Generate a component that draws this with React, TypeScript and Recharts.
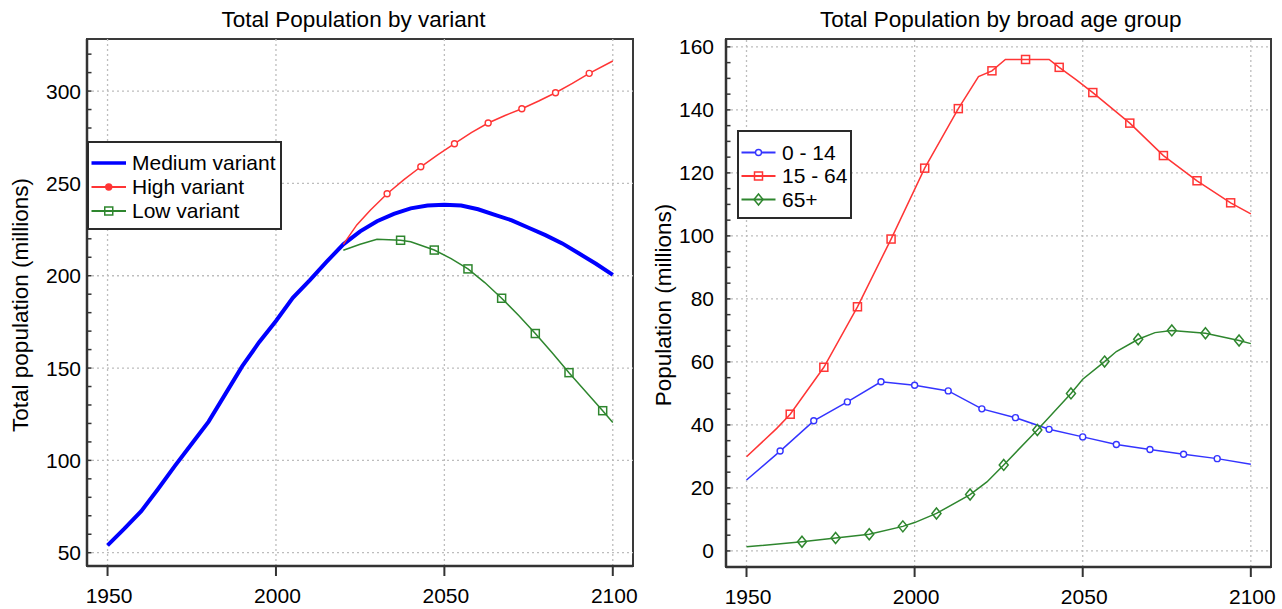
import React from 'react';
import { LineChart, Line, XAxis, YAxis, ReferenceLine, ReferenceArea, Legend } from 'recharts';

const FONT = '"Liberation Sans", Arial, Helvetica, sans-serif';

// ---------- shared x axis ----------
const xTicks = [1950, 2000, 2050, 2100];
const X_DOMAIN: [number, number] = [1943.9, 2106];

// ---------- left panel: total population by variant ----------
const leftTitle = 'Total Population by variant';
const leftYLabel = 'Total population (millions)';
const LEFT_Y_DOMAIN: [number, number] = [42.8, 328.2];
const leftYMajor = [50, 100, 150, 200, 250, 300];
const leftYTicks = [50, 60, 70, 80, 90, 100, 110, 120, 130, 140, 150, 160, 170, 180, 190, 200, 210, 220, 230, 240, 250, 260, 270, 280, 290, 300, 310, 320];

const mediumYears = [1950, 1955, 1960, 1965, 1970, 1975, 1980, 1985, 1990, 1995, 2000, 2005, 2010, 2015, 2020, 2025, 2030, 2035, 2040, 2045, 2050, 2055, 2060, 2065, 2070, 2075, 2080, 2085, 2090, 2095, 2100];
const mediumValues = [54, 63, 72.5, 84.5, 97, 109, 121, 136, 151, 164, 175.5, 188, 197.5, 207.5, 217, 224, 229.5, 233.5, 236.5, 238, 238.5, 238, 236, 233, 230, 226, 222, 217.5, 212, 206.5, 200.5];

const highYears = [2020, 2024, 2028, 2033, 2038, 2043, 2048, 2053, 2058, 2063, 2068, 2073, 2078, 2083, 2088, 2093, 2100];
const highValues = [217, 227.5, 235.5, 244.4, 252, 259, 265.5, 271.5, 277.5, 282.7, 286.8, 290.4, 294.6, 299.1, 304.2, 309.6, 316.3];
const highMarkerYears = [2033, 2043, 2053, 2063, 2073, 2083, 2093];

const lowYears = [2020, 2025, 2030, 2037, 2040, 2047, 2052, 2057, 2062, 2067, 2072, 2077, 2082, 2087, 2092, 2097, 2100];
const lowValues = [213.8, 217, 219.8, 219.2, 218.4, 213.9, 209.3, 203.7, 196.3, 187.8, 178.6, 168.7, 158.3, 147.5, 137.2, 126.9, 120.5];
const lowMarkerYears = [2037, 2047, 2057, 2067, 2077, 2087, 2097];

// ---------- right panel: by broad age group ----------
const rightTitle = 'Total Population by broad age group';
const rightYLabel = 'Population (millions)';
const RIGHT_Y_DOMAIN: [number, number] = [-5.1, 162.5];
const rightYMajor = [0, 20, 40, 60, 80, 100, 120, 140, 160];
const rightYTicks = [0, 5, 10, 15, 20, 25, 30, 35, 40, 45, 50, 55, 60, 65, 70, 75, 80, 85, 90, 95, 100, 105, 110, 115, 120, 125, 130, 135, 140, 145, 150, 155, 160];

const childYears = [1950, 1960, 1970, 1980, 1990, 2000, 2010, 2020, 2030, 2040, 2050, 2060, 2070, 2080, 2090, 2100];
const childValues = [22.5, 31.7, 41.3, 47.3, 53.7, 52.6, 50.8, 45.1, 42.3, 38.6, 36.2, 33.8, 32.2, 30.7, 29.3, 27.5];
const childMarkerYears = [1960, 1970, 1980, 1990, 2000, 2010, 2020, 2030, 2040, 2050, 2060, 2070, 2080, 2090];

const workYears = [1950, 1959, 1963, 1973, 1983, 1993, 2003, 2013, 2019, 2023, 2027, 2033, 2040, 2043, 2048, 2053, 2064, 2074, 2084, 2094, 2100];
const workValues = [29.9, 38.9, 43.4, 58.3, 77.5, 99.0, 121.5, 140.4, 150.6, 152.4, 156.0, 156.0, 156.0, 153.5, 149.6, 145.5, 135.8, 125.5, 117.5, 110.5, 107.0];
const workMarkerYears = [1963, 1973, 1983, 1993, 2003, 2013, 2023, 2033, 2043, 2053, 2064, 2074, 2084, 2094];

const oldYears = [1950, 1966.5, 1976.5, 1986.5, 1996.5, 2000, 2006.5, 2016.5, 2021.5, 2026.5, 2036.5, 2046.5, 2050, 2056.5, 2060, 2066.5, 2071.5, 2076.5, 2086.5, 2096.5, 2100];
const oldValues = [1.3, 2.9, 4.1, 5.3, 7.8, 9.0, 11.9, 17.9, 21.9, 27.3, 38.4, 50.0, 54.5, 60.1, 63.3, 67.2, 69.3, 70.0, 69.1, 66.8, 65.8];
const oldMarkerYears = [1966.5, 1976.5, 1986.5, 1996.5, 2006.5, 2016.5, 2026.5, 2036.5, 2046.5, 2056.5, 2066.5, 2076.5, 2086.5, 2096.5];

type Shape = 'none' | 'circle' | 'square' | 'diamond';
interface Series {
  name: string;
  data: { year: number; value: number }[];
  markers: number[];
  color: string;
  width: number;
  shape: Shape;
  legendFilled?: boolean;
}

const zip = (years: number[], values: number[]) => years.map((year, i) => ({ year, value: values[i] }));

const leftSeries: Series[] = [
  { name: 'Medium variant', data: zip(mediumYears, mediumValues), markers: [], color: '#0000ff', width: 4, shape: 'none' },
  { name: 'High variant', data: zip(highYears, highValues), markers: highMarkerYears, color: '#ff3535', width: 1.5, shape: 'circle', legendFilled: true },
  { name: 'Low variant', data: zip(lowYears, lowValues), markers: lowMarkerYears, color: '#2e862e', width: 1.5, shape: 'square' },
];

const rightSeries: Series[] = [
  { name: '0 - 14', data: zip(childYears, childValues), markers: childMarkerYears, color: '#3434ff', width: 1.5, shape: 'circle' },
  { name: '15 - 64', data: zip(workYears, workValues), markers: workMarkerYears, color: '#ff3535', width: 1.5, shape: 'square' },
  { name: '65+', data: zip(oldYears, oldValues), markers: oldMarkerYears, color: '#2e862e', width: 1.5, shape: 'diamond' },
];

function Marker({ shape, cx, cy, color, filled }: { shape: Shape; cx: number; cy: number; color: string; filled?: boolean }) {
  if (shape === 'circle') return <circle cx={cx} cy={cy} r={3} fill={filled ? color : '#fff'} stroke={color} strokeWidth={1.4} />;
  if (shape === 'square') return <rect x={cx - 4} y={cy - 4} width={8} height={8} fill="none" stroke={color} strokeWidth={1.5} />;
  if (shape === 'diamond')
    return <polygon points={`${cx},${cy - 5.5} ${cx + 4.5},${cy} ${cx},${cy + 5.5} ${cx - 4.5},${cy}`} fill="none" stroke={color} strokeWidth={1.5} />;
  return null;
}

const dotFor = (s: Series) => (props: any) => {
  const { cx, cy, payload, index } = props;
  const key = `${s.name}-${index}`;
  if (s.shape === 'none' || !payload || !s.markers.includes(payload.year)) return <g key={key} />;
  return (
    <g key={key}>
      <Marker shape={s.shape} cx={cx} cy={cy} color={s.color} />
    </g>
  );
};

const makeYTick = (major: number[], margin: number) => (props: any) => {
  const { x, y, payload } = props;
  const ax = x + margin;
  const isMajor = major.includes(payload.value);
  return (
    <g>
      <line x1={ax} x2={ax + 4.5} y1={y} y2={y} stroke="#333" strokeWidth={1.5} />
      {isMajor && (
        <text x={x} y={y} dy="0.355em" textAnchor="end" fontSize={21} fontFamily={FONT} fill="#000">
          {payload.value}
        </text>
      )}
    </g>
  );
};

const XTick = (props: any) => {
  const { x, y, payload } = props;
  return (
    <text x={x + 1.5} y={y} dy="0.71em" textAnchor="middle" fontSize={21} fontFamily={FONT} fill="#000">
      {payload.value}
    </text>
  );
};

interface LegendGeom {
  w: number;
  h: number;
  rows: number[];
  lx1: number;
  lx2: number;
  tx: number;
}

const LegendBox = ({ items, g }: { items: Series[]; g: LegendGeom }) => (
  <svg width={g.w} height={g.h} style={{ display: 'block' }}>
    <rect x={1} y={1} width={g.w - 2} height={g.h - 2} fill="#fff" stroke="#2a2a2a" strokeWidth={2} />
    {items.map((s, i) => (
      <g key={s.name}>
        <line x1={g.lx1} x2={g.lx2} y1={g.rows[i]} y2={g.rows[i]} stroke={s.color} strokeWidth={s.width === 4 ? 3.5 : 1.8} />
        <Marker shape={s.shape} cx={(g.lx1 + g.lx2) / 2} cy={g.rows[i]} color={s.color} filled={s.legendFilled} />
        <text x={g.tx} y={g.rows[i]} dy="0.355em" fontSize={21} fontFamily={FONT} fill="#000">
          {s.name}
        </text>
      </g>
    ))}
  </svg>
);

interface PanelProps {
  width: number;
  margin: { top: number; right: number; bottom: number; left: number };
  yWidth: number;
  xHeight: number;
  yDomain: [number, number];
  yTicks: number[];
  yMajor: number[];
  yTickMargin: number;
  series: Series[];
  legendPos: { left: number; top: number };
  legendGeom: LegendGeom;
}

function Panel(p: PanelProps) {
  const gridStroke = '#bdbdbd';
  return (
    <LineChart width={p.width} height={609} margin={p.margin}>
      {xTicks.map((t) => (
        <ReferenceLine key={`gx${t}`} x={t} stroke={gridStroke} strokeWidth={1.3} strokeDasharray="2 3" />
      ))}
      {p.yMajor.map((t) => (
        <ReferenceLine key={`gy${t}`} y={t} stroke={gridStroke} strokeWidth={1.3} strokeDasharray="2 3" />
      ))}
      <XAxis
        dataKey="year"
        type="number"
        domain={X_DOMAIN}
        allowDataOverflow
        ticks={xTicks}
        interval={0}
        height={p.xHeight}
        tickSize={10}
        tickMargin={12}
        tick={<XTick />}
        tickLine={{ stroke: '#333', strokeWidth: 2 }}
        axisLine={{ stroke: '#333', strokeWidth: 2.5 }}
      />
      <YAxis
        type="number"
        domain={p.yDomain}
        allowDataOverflow
        ticks={p.yTicks}
        interval={0}
        width={p.yWidth}
        tickSize={0}
        tickMargin={p.yTickMargin}
        tickLine={false}
        tick={makeYTick(p.yMajor, p.yTickMargin)}
        axisLine={{ stroke: '#333', strokeWidth: 2.5 }}
      />
      <ReferenceArea
        x1={X_DOMAIN[0]}
        x2={X_DOMAIN[1]}
        y1={p.yDomain[0]}
        y2={p.yDomain[1]}
        fill="none"
        fillOpacity={0}
        stroke="#3a3a3a"
        strokeWidth={2}
      />
      {p.series.map((s) => (
        <Line
          key={s.name}
          data={s.data}
          dataKey="value"
          name={s.name}
          type="linear"
          stroke={s.color}
          strokeWidth={s.width}
          dot={dotFor(s)}
          activeDot={false}
          isAnimationActive={false}
        />
      ))}
      <Legend
        layout="vertical"
        align="center"
        verticalAlign="middle"
        wrapperStyle={{ left: p.legendPos.left, top: p.legendPos.top, width: p.legendGeom.w, height: p.legendGeom.h }}
        content={() => <LegendBox items={p.series} g={p.legendGeom} />}
      />
    </LineChart>
  );
}

export default function App() {
  return (
    <div style={{ position: 'absolute', left: 0, top: 0, width: 1282, height: 609, background: '#fff', overflow: 'hidden' }}>
      <div style={{ position: 'absolute', left: 0, top: 0 }}>
        <Panel
          width={640}
          margin={{ top: 39, right: 7, bottom: 0, left: 0 }}
          yWidth={87}
          xHeight={43}
          yDomain={LEFT_Y_DOMAIN}
          yTicks={leftYTicks}
          yMajor={leftYMajor}
          yTickMargin={6}
          series={leftSeries}
          legendPos={{ left: 87, top: 141 }}
          legendGeom={{ w: 195, h: 89, rows: [22, 46, 70], lx1: 4.5, lx2: 39, tx: 45 }}
        />
      </div>
      <div style={{ position: 'absolute', left: 640, top: 0 }}>
        <Panel
          width={642}
          margin={{ top: 39, right: 11, bottom: 0, left: 0 }}
          yWidth={86}
          xHeight={42}
          yDomain={RIGHT_Y_DOMAIN}
          yTicks={rightYTicks}
          yMajor={rightYMajor}
          yTickMargin={12}
          series={rightSeries}
          legendPos={{ left: 96.5, top: 130 }}
          legendGeom={{ w: 115, h: 89, rows: [22.5, 46, 69.5], lx1: 4.5, lx2: 38.5, tx: 45 }}
        />
      </div>
      <svg width={1282} height={609} style={{ position: 'absolute', left: 0, top: 0, pointerEvents: 'none' }}>
        <text x={353.5} y={27} textAnchor="middle" fontSize={22.5} fontFamily={FONT} fill="#000">
          {leftTitle}
        </text>
        <text x={1000.8} y={27} textAnchor="middle" fontSize={22.5} fontFamily={FONT} fill="#000">
          {rightTitle}
        </text>
        <text x={28} y={305} transform="rotate(-90 28 305)" textAnchor="middle" fontSize={22.5} fontFamily={FONT} fill="#000">
          {leftYLabel}
        </text>
        <text x={671} y={305} transform="rotate(-90 671 305)" textAnchor="middle" fontSize={22.5} fontFamily={FONT} fill="#000">
          {rightYLabel}
        </text>
      </svg>
    </div>
  );
}
